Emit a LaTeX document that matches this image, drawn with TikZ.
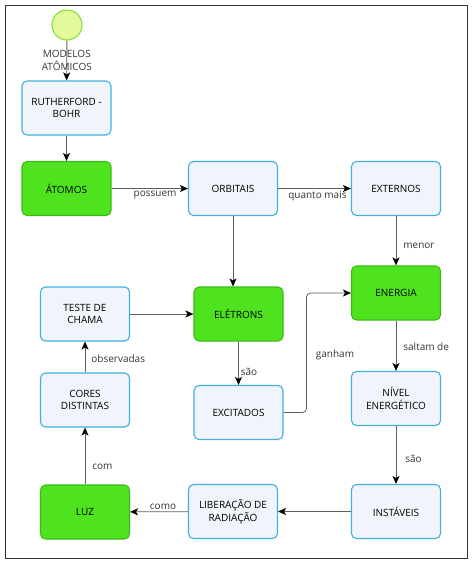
\documentclass[tikz,border=0pt]{standalone}
\usepackage{fontspec}
\setmainfont{Open Sans}
\usepackage[x11names, svgnames]{xcolor}
\usepackage{tikz}
\usetikzlibrary{arrows.meta, calc}
\definecolor{boxline}{HTML}{3FB0E0}
\definecolor{boxfill}{HTML}{F2F4FB}
\definecolor{greenfill}{HTML}{4EE31E}
\definecolor{greenline}{HTML}{3CBA1A}
\definecolor{startfill}{HTML}{E4F89C}
\definecolor{startline}{HTML}{80E23A}
\definecolor{linkgray}{HTML}{5E5E5E}

\begin{document}
\begin{tikzpicture}[x=1pt, y=-1pt,
	concept/.style={draw=boxline, fill=boxfill, line width=1.1pt, rounded corners=5pt,
		minimum width=89pt, minimum height=54pt, align=center, font=\fontsize{10}{12.5}\selectfont},
	keyconcept/.style={concept, draw=greenline, fill=greenfill},
	link/.style={draw=linkgray, line width=0.8pt, -{Stealth[length=8pt, width=7pt, inset=2pt, black]}},
	lbl/.style={font=\fontsize{10}{11}\selectfont, text=black!80, inner sep=2pt}]

	\useasboundingbox (0,0) rectangle (474,565);
	\draw[line width=1pt, black!80] (5,5) rectangle (467,558);

	% start
	\node[circle, draw=startline, fill=startfill, line width=1.1pt, minimum size=30pt] (start) at (67,25) {};

	% concepts
	\node[concept] (rutherford) at (66.5,108) {RUTHERFORD -\\BOHR};
	\node[keyconcept] (atomos) at (66.5,188.5) {ÁTOMOS};
	\node[concept] (orbitais) at (233,188.5) {ORBITAIS};
	\node[concept] (externos) at (396,188.5) {EXTERNOS};
	\node[keyconcept] (energia) at (396,293) {ENERGIA};
	\node[keyconcept] (eletrons) at (238.5,314) {ELÉTRONS};
	\node[concept] (teste) at (85,314) {TESTE DE\\CHAMA};
	\node[concept] (cores) at (85,400) {CORES\\DISTINTAS};
	\node[keyconcept] (luz) at (85,512) {LUZ};
	\node[concept] (excitados) at (238.5,412.5) {EXCITADOS};
	\node[concept] (nivel) at (396,398.5) {NÍVEL\\ENERGÉTICO};
	\node[concept] (instaveis) at (396,511.5) {INSTÁVEIS};
	\node[concept] (liberacao) at (233,511.5) {LIBERAÇÃO DE\\RADIAÇÃO};

	% links
	\draw[link] (start) -- (rutherford) node[lbl, midway, align=center, font=\fontsize{10}{12.5}\selectfont] {MODELOS\\ATÔMICOS};
	\draw[link] (rutherford) -- (atomos);
	\draw[link] (atomos) -- (orbitais) node[lbl, below, pos=.57] {possuem};
	\draw[link] (orbitais) -- (externos) node[lbl, below, pos=.54] {quanto mais};
	\draw[link] (orbitais.south) -- (orbitais.south |- eletrons.north);
	\draw[link] (externos) -- (energia) node[lbl, right, pos=.6, xshift=5pt] {menor};
	\draw[link] (energia) -- (nivel) node[lbl, right, pos=.52, xshift=5pt] {saltam de};
	\draw[link] (nivel) -- (instaveis) node[lbl, right, pos=.57, xshift=7pt] {são};
	\draw[link] (instaveis) -- (liberacao);
	\draw[link] (liberacao) -- (luz) node[lbl, above, pos=.43] {como};
	\draw[link] (luz) -- (cores) node[lbl, right, pos=.31, xshift=5pt] {com};
	\draw[link] (cores) -- (teste) node[lbl, right, pos=.44, xshift=4pt] {observadas};
	\draw[link] (teste) -- (eletrons);
	\draw[link] (eletrons) -- (excitados) node[lbl, right, pos=.71] {são};
	\draw[link, rounded corners=4pt] (excitados.east) -- ++(23,0) |- (energia.west);
	\node[lbl] (ganham) at (335,355) {ganham};

\end{tikzpicture}
\end{document}
